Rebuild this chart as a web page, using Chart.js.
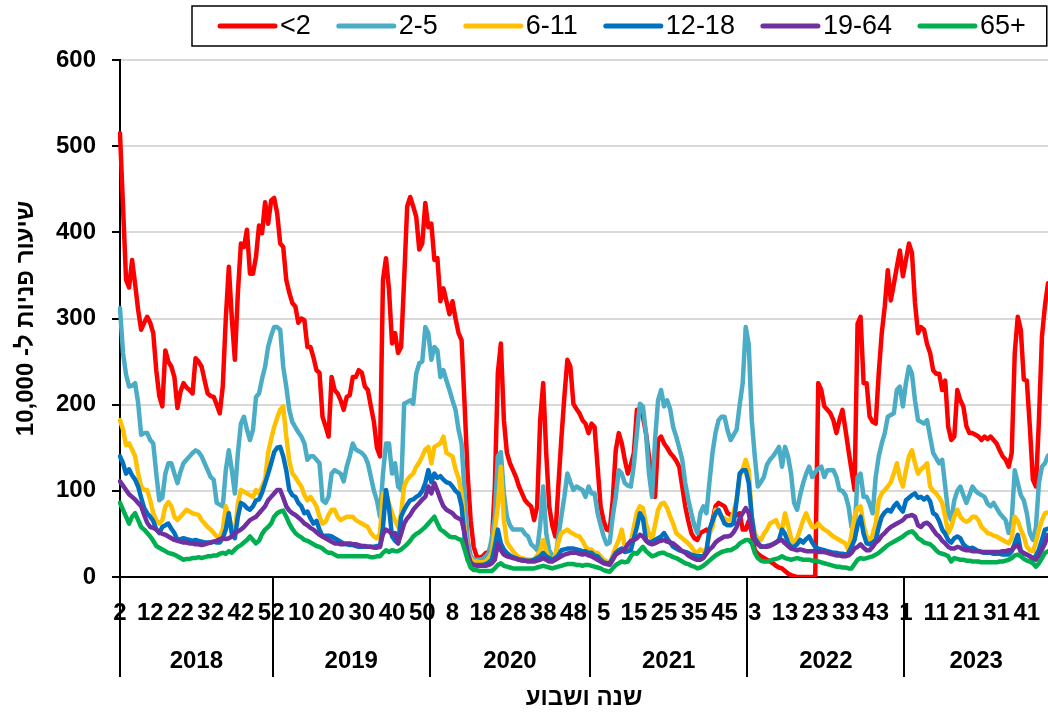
<!DOCTYPE html>
<html lang="he">
<head>
<meta charset="utf-8">
<script src="https://cdn.jsdelivr.net/npm/chart.js@4.4.0/dist/chart.umd.min.js"></script>
<style>
  html, body { margin: 0; padding: 0; background: #fff; }
  #wrap { width: 1048px; height: 713px; }
</style>
</head>
<body>
<div id="wrap"><canvas id="chart" width="1048" height="713"></canvas></div>
<script>
// years and the week range shown for each one
const years = ['2018', '2019', '2020', '2021', '2022', '2023'];
const firstWeek = [2, 1, 1, 1, 1, 1];
const lastWeek = [52, 52, 53, 52, 52, 48];

const seriesNames = ['<2', '2-5', '6-11', '12-18', '19-64', '65+'];
const seriesColors = ['#FF0000', '#4BACC6', '#FFC000', '#0070C0', '#7030A0', '#00B050'];

// weekly rates per 10,000 (one row block per year)
const under2 = [
  515,430,345,336,368,340,310,287,295,302, 295,283,240,210,198,263,250,244,232,196,
  215,225,220,217,213,254,250,244,228,213, 210,209,200,190,221,300,360,300,252,330,
  387,383,403,352,352,372,408,399,435,410, 437,
  440,422,387,383,345,330,318,314,295,300, 298,267,267,255,240,237,186,175,163,232,
  217,213,205,194,209,211,232,232,240,237, 221,217,198,180,150,140,345,370,333,271,
  283,260,267,345,430,441,430,418,380,387, 434,406,
  410,368,370,320,335,320,305,320,300,283, 275,200,120,66,35,24,22,24,28,29,
  39,105,237,271,182,144,132,124,116,105, 97,89,85,82,66,82,182,225,144,82,
  60,47,105,160,209,252,244,201,195,190, 182,178,167,
  178,174,128,82,65,55,54,89,147,167, 155,136,120,130,144,194,194,186,167,140,
  113,93,159,163,155,150,144,140,135,128, 105,82,65,51,45,43,51,53,55,51,
  65,82,86,84,82,74,72,70,72,74, 55,55,
  65,51,31,27,24,22,20,18,16,13, 11,10,7,4,2,1,0,0,0,0,
  0,0,1,225,217,198,194,190,182,167, 182,194,171,147,124,101,294,302,225,225,
  186,180,178,236,283,314,356,321,340,360, 379,349,
  368,387,376,318,283,290,287,270,260,240, 236,236,217,228,174,159,163,217,205,198,
  175,167,167,165,163,159,163,160,163,159, 155,147,140,136,128,144,260,302,287,229,
  228,174,113,105,182,279,315,341
];
const age2to5 = [
  312,260,235,221,222,225,202,165,167,167, 159,155,120,89,92,120,132,132,120,109,
  122,132,136,140,144,147,145,140,132,124, 116,113,86,84,82,124,147,124,97,144,
  178,186,171,159,171,209,213,230,244,267, 280,
  290,290,287,244,221,194,180,174,168,163, 155,136,140,140,136,132,89,86,93,120,
  124,122,120,111,128,140,155,148,146,144, 140,132,116,100,89,70,120,155,155,120,
  132,105,101,201,203,205,201,236,248,250, 290,283,
  252,267,263,232,240,228,217,205,194,171, 155,97,43,25,20,20,20,21,24,28,
  45,70,140,145,97,70,60,55,55,55, 55,50,47,38,35,31,60,105,51,31,
  25,20,47,70,93,120,110,101,105,103, 101,93,105,
  97,97,74,60,47,38,40,70,93,124, 120,109,106,105,130,167,201,198,167,120,
  93,159,205,217,198,205,195,174,163,150, 136,109,90,74,60,51,74,82,74,110,
  144,167,182,186,186,170,159,165,171,200, 225,290,
  270,182,140,105,110,116,130,136,140,145, 151,128,151,140,120,86,78,95,109,120,
  128,116,122,126,128,116,124,124,124,116, 101,100,95,82,58,51,116,120,93,93,
  85,74,116,140,155,167,186,188,190,217, 221,198,
  225,244,236,205,182,180,178,182,163,144, 138,132,136,105,74,66,89,100,105,95,
  86,95,105,100,97,95,93,85,82,86, 80,74,70,66,51,66,124,109,95,89,
  74,51,43,58,109,128,132,141
];
const age6to11 = [
  182,171,153,155,148,140,120,105,101,101, 89,74,66,62,66,82,87,82,70,66,
  70,74,78,76,74,73,72,66,62,58, 55,51,47,46,55,82,70,58,51,86,
  101,99,97,95,93,101,97,105,113,144, 160,
  174,185,194,198,163,135,120,116,110,105, 95,89,93,88,82,70,62,64,72,78,
  78,70,66,68,70,70,70,66,64,62, 60,58,51,47,45,50,97,97,85,74,
  65,58,74,105,113,117,120,128,133,140, 148,151,
  132,151,153,155,163,144,142,140,125,115, 97,58,28,22,18,18,17,17,18,22,
  28,55,82,128,66,40,35,30,26,23, 22,21,20,20,20,25,31,43,30,22,
  20,25,40,51,53,55,52,50,48,47, 42,35,32,
  32,28,28,24,20,18,16,25,35,43, 55,35,30,40,58,75,82,80,62,50,
  43,60,78,85,86,80,70,62,51,48, 45,42,39,35,30,28,32,30,31,50,
  58,78,74,70,68,66,66,75,90,116, 125,136,
  124,70,50,45,43,50,55,62,64,66, 58,55,74,60,45,39,45,55,66,74,
  65,58,58,62,58,55,53,50,47,45, 43,41,39,31,50,70,80,82,60,47,
  39,50,62,89,97,101,105,110,120,132, 115,105,
  124,140,147,132,120,125,128,132,105,100, 97,92,86,70,51,58,70,78,70,66,
  64,66,70,70,66,58,55,51,50,48, 47,45,43,41,39,45,70,65,55,47,
  35,31,30,40,55,66,74,75
];
const age12to18 = [
  140,132,120,125,118,113,105,92,80,74, 70,65,55,51,58,60,62,56,51,43,
  44,45,44,43,42,43,42,41,40,40, 40,41,40,40,45,55,74,50,45,70,
  86,84,80,78,82,89,90,98,109,120, 132,
  145,150,151,140,124,101,95,93,86,82, 74,76,68,62,65,55,47,48,48,47,
  45,43,41,39,38,37,37,36,35,35, 35,35,35,35,36,35,58,101,80,47,
  42,39,70,78,84,89,90,93,95,100, 109,124,
  110,120,115,117,113,110,109,105,100,97, 82,47,20,16,14,14,14,14,15,17,
  20,35,55,39,32,28,25,23,22,20, 20,19,19,19,20,22,24,28,24,22,
  20,22,25,31,32,33,33,33,32,31, 30,30,28,
  28,25,24,20,17,16,16,22,28,31, 33,29,30,31,45,58,74,68,43,40,
  41,43,45,47,51,45,40,35,33,31, 30,29,28,26,25,24,24,24,30,55,
  65,74,78,70,62,60,60,62,89,120, 124,124,
  109,70,45,40,35,35,36,37,38,40, 43,55,50,40,35,35,38,43,40,44,
  47,40,35,33,32,31,30,29,28,28, 27,27,26,28,35,43,60,70,50,39,
  38,40,43,58,70,75,78,76,82,86, 80,76,
  89,92,95,97,92,93,90,93,88,74, 72,65,55,50,43,40,45,47,45,38,
  35,33,34,32,30,29,28,28,28,27, 27,27,26,26,26,30,39,49,30,27,
  26,24,20,25,32,43,55,56
];
const age19to64 = [
  111,106,101,96,93,90,86,82,72,63, 58,57,55,52,50,49,47,45,43,42,
  41,40,40,39,39,38,38,37,38,39, 40,41,42,44,45,44,45,47,51,53,
  55,58,62,66,68,70,74,78,82,89, 93,
  97,101,101,92,82,77,74,72,69,66, 62,60,57,55,52,49,47,45,43,41,
  39,39,38,38,39,39,38,38,37,36, 36,35,35,34,34,35,50,55,53,50,
  51,39,50,62,68,72,78,82,86,90, 93,105,
  97,109,100,90,82,78,76,74,70,68, 66,51,28,17,14,13,13,13,13,14,
  16,20,39,31,26,24,23,22,21,20, 19,19,18,18,18,19,20,22,20,18,
  18,20,22,24,26,27,28,28,28,27, 26,27,25,
  24,22,20,18,16,15,14,20,26,28, 30,32,38,42,43,45,49,47,42,39,
  38,39,41,42,43,41,40,39,36,33, 30,28,25,23,21,20,20,22,27,32,
  35,40,43,45,47,47,48,52,58,68, 74,80,
  74,55,42,38,36,35,35,36,38,40, 42,43,39,36,33,32,31,32,31,30,
  30,30,30,29,29,29,28,27,26,25, 25,24,24,25,28,33,35,38,34,31,
  31,35,40,43,48,51,55,58,60,62, 64,66,
  70,71,72,70,60,58,62,63,60,55, 50,47,42,39,35,33,33,35,34,32,
  31,31,30,30,30,29,29,29,29,29, 29,29,30,30,31,31,35,37,30,28,
  26,24,22,20,25,32,39,49
];
const age65plus = [
  86,78,70,62,70,74,66,58,55,51, 47,42,36,34,32,30,28,27,26,24,
  22,20,21,21,22,22,23,22,23,24, 24,25,25,27,28,27,30,28,32,35,
  37,40,43,47,43,39,42,50,55,58, 62,
  70,74,76,77,70,62,56,51,48,46, 43,42,40,38,36,35,33,30,28,28,
  26,24,24,24,24,24,24,24,24,24, 24,24,23,23,24,24,28,31,29,31,
  30,30,32,35,38,42,47,50,52,55, 58,62,
  66,70,62,55,53,50,47,46,46,44, 43,32,20,11,8,8,7,7,7,7,
  7,10,14,16,13,12,11,10,10,10, 10,10,10,10,10,11,12,13,12,11,
  10,11,12,13,14,15,15,15,14,14, 13,14,14,
  13,12,11,10,8,7,6,10,14,16, 18,17,18,24,28,27,31,35,30,27,
  24,25,27,28,28,26,25,23,22,20, 18,16,15,13,12,10,11,13,16,19,
  22,25,27,29,30,31,31,33,35,39, 41,43,
  43,39,28,22,19,18,18,19,20,21, 22,24,22,21,20,21,22,21,20,20,
  20,19,19,18,17,16,15,14,13,12, 12,11,11,10,10,15,20,22,21,22,
  23,24,26,28,31,34,37,39,41,43, 45,47,
  50,52,53,50,45,43,40,39,38,35, 31,28,27,26,24,18,22,21,20,20,
  19,19,18,18,18,17,17,17,17,17, 17,18,18,19,20,22,25,26,24,21,
  19,18,16,12,16,22,28,30
];
const seriesValues = [under2, age2to5, age6to11, age12to18, age19to64, age65plus];

// week labels + index of first week of every year
const weekLabels = [];
const yearStart = [];
years.forEach((y, i) => {
  yearStart.push(weekLabels.length);
  for (let w = firstWeek[i]; w <= lastWeek[i]; w++) weekLabels.push(String(w));
});

const FONT = "'Liberation Sans', Arial, sans-serif";

// year row under the week numbers, with separators
const yearAxis = {
  id: 'yearAxis',
  afterDraw(chart) {
    const { ctx, chartArea } = chart;
    const x = chart.scales.x;
    const top = chartArea.bottom;
    const bottom = top + 100;
    const edges = yearStart.map((s, i) =>
      i === 0 ? x.getPixelForValue(0) : (x.getPixelForValue(s - 1) + x.getPixelForValue(s)) / 2);
    ctx.save();
    ctx.strokeStyle = '#000';
    ctx.lineWidth = 2;
    edges.forEach(px => {
      ctx.beginPath();
      ctx.moveTo(Math.round(px), top);
      ctx.lineTo(Math.round(px), bottom);
      ctx.stroke();
    });
    ctx.fillStyle = '#000';
    ctx.font = 'bold 24px ' + FONT;
    ctx.textAlign = 'center';
    ctx.textBaseline = 'middle';
    years.forEach((y, i) => {
      const right = i < years.length - 1 ? edges[i + 1] : chartArea.right;
      ctx.fillText(y, (edges[i] + right) / 2, top + 84);
    });
    ctx.restore();
  }
};

// boxed legend on top
const boxLegend = {
  id: 'boxLegend',
  afterDraw(chart) {
    const ctx = chart.ctx;
    const lineLen = 55, gap = 5, itemGap = 28;
    const boxLeft = 192, boxTop = 6, boxH = 40;
    let px = 220;
    const cy = boxTop + boxH / 2;
    ctx.save();
    ctx.font = '27px ' + FONT;
    ctx.textBaseline = 'middle';
    ctx.textAlign = 'left';
    chart.data.datasets.forEach(ds => {
      ctx.strokeStyle = ds.borderColor;
      ctx.lineWidth = 5;
      ctx.lineCap = 'round';
      ctx.beginPath();
      ctx.moveTo(px, cy);
      ctx.lineTo(px + lineLen, cy);
      ctx.stroke();
      px += lineLen + gap;
      ctx.fillStyle = '#000';
      ctx.fillText(ds.label, px, cy + 1);
      px += ctx.measureText(ds.label).width + itemGap;
    });
    ctx.lineWidth = 1.5;
    ctx.strokeStyle = '#000';
    ctx.strokeRect(boxLeft, boxTop, px - itemGap + 21 - boxLeft, boxH);
    ctx.restore();
  }
};

const ctx = document.getElementById('chart').getContext('2d');
new Chart(ctx, {
  type: 'line',
  data: {
    labels: weekLabels,
    datasets: seriesNames.map((name, i) => ({
      label: name,
      data: seriesValues[i],
      borderColor: seriesColors[i],
      backgroundColor: seriesColors[i],
      borderWidth: 4.5,
      pointRadius: 0,
      tension: 0,
      borderJoinStyle: 'round',
      borderCapStyle: 'round',
      order: seriesNames.length - i
    }))
  },
  options: {
    responsive: false,
    animation: false,
    layout: { padding: { top: 60, right: 0, bottom: 0, left: 0 } },
    plugins: {
      legend: { display: false },
      tooltip: { enabled: false }
    },
    scales: {
      x: {
        type: 'category',
        offset: false,
        afterFit: s => { s.height = 136; },
        grid: {
          display: true,
          drawOnChartArea: false,
          drawTicks: true,
          tickLength: 22,
          tickColor: 'rgba(0,0,0,0)'
        },
        border: { display: true, color: '#000', width: 2 },
        ticks: {
          autoSkip: false,
          maxRotation: 0,
          minRotation: 0,
          padding: 0,
          color: '#000',
          font: { family: FONT, size: 24, weight: 'bold' },
          callback: function (value, index) {
            return index % 10 === 0 ? this.getLabelForValue(value) : '';
          }
        },
        title: {
          display: true,
          text: 'שנה ושבוע',
          color: '#000',
          font: { family: FONT, size: 24, weight: 'bold' },
          padding: { top: 0, bottom: 0 }
        }
      },
      y: {
        min: 0,
        max: 600,
        afterFit: s => { s.width = 120; },
        ticks: {
          stepSize: 100,
          padding: 16,
          color: '#000',
          font: { family: FONT, size: 24, weight: 'bold' }
        },
        grid: {
          color: '#d9d9d9',
          lineWidth: 2,
          tickColor: '#000',
          tickLength: 8,
          tickWidth: 2
        },
        border: { display: true, color: '#000', width: 2 },
        title: {
          display: true,
          text: 'שיעור פניות ל- 10,000',
          color: '#000',
          font: { family: FONT, size: 24, weight: 'bold' },
          padding: { top: 12, bottom: 0 }
        }
      }
    }
  },
  plugins: [yearAxis, boxLegend]
});
</script>
</body>
</html>
